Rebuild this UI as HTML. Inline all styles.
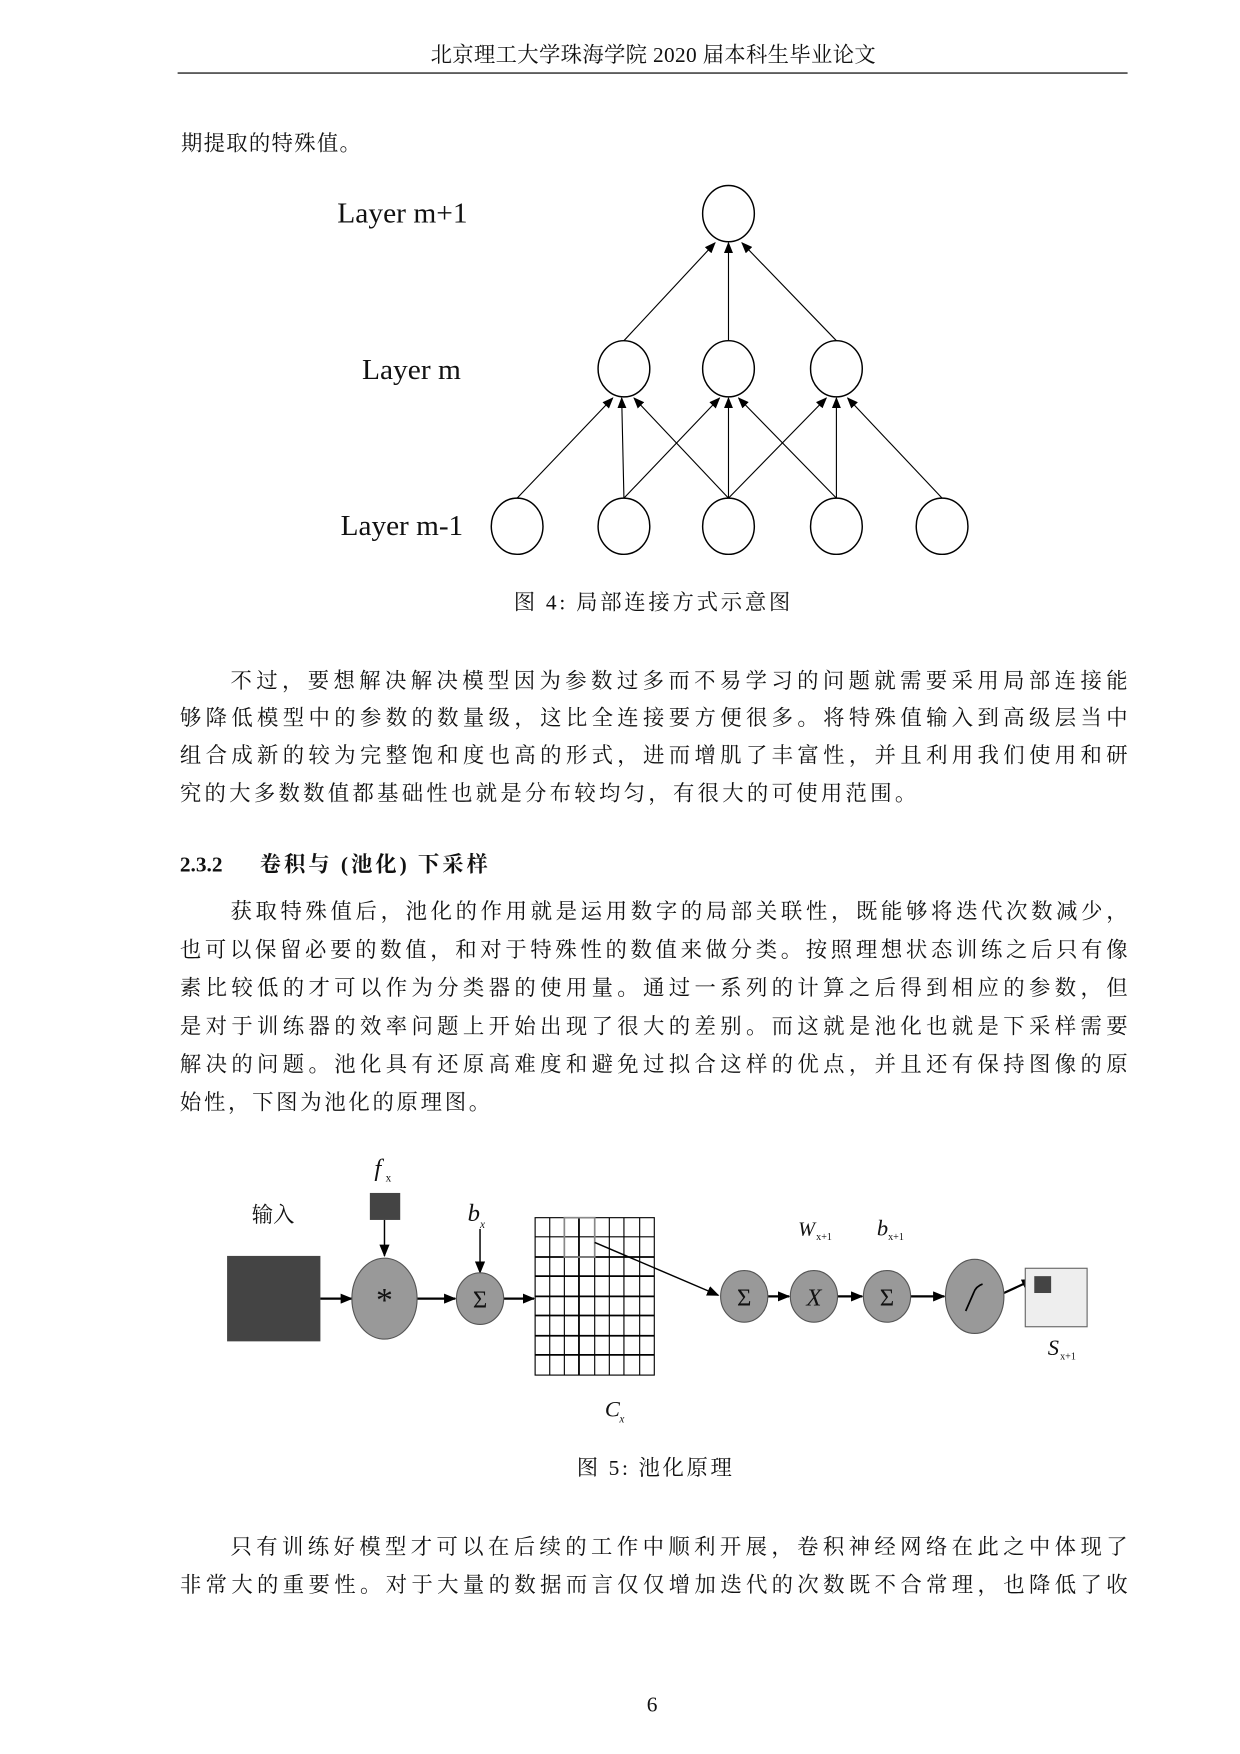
<!DOCTYPE html>
<html><head><meta charset="utf-8">
<style>
html,body{margin:0;padding:0;background:#fff;}
svg{display:block;}
.t{font-family:"Liberation Serif","Noto Serif CJK SC",serif;font-size:19px;fill:#111;}
.e{font-family:"Liberation Serif","Noto Serif CJK SC",serif;fill:#111;}
</style></head><body>
<svg width="1240" height="1754" viewBox="0 0 1103 1560" preserveAspectRatio="none" xmlns="http://www.w3.org/2000/svg">
<defs>
<marker id="a" markerWidth="10" markerHeight="8" refX="9" refY="4" orient="auto" markerUnits="userSpaceOnUse"><path d="M0,0 L10,4 L0,8 z" fill="#000"/></marker>
<marker id="b" markerWidth="11" markerHeight="9" refX="10" refY="4.5" orient="auto" markerUnits="userSpaceOnUse"><path d="M0,0 L11,4.5 L0,9 z" fill="#000"/></marker>
</defs>
<rect width="1103" height="1560" fill="#fff"/>
<!-- header -->
<text class="t" x="383" y="55" textLength="396" font-size="18">北京理工大学珠海学院 2020 届本科生毕业论文</text>
<line x1="158" y1="65" x2="1003" y2="65" stroke="#444" stroke-width="1.5"/>
<text class="t" x="161" y="134" textLength="160">期提取的特殊值。</text>

<!-- figure 4 -->
<text class="e" x="300" y="198" font-size="25" textLength="116" lengthAdjust="spacingAndGlyphs">Layer m+1</text>
<text class="e" x="322" y="337" font-size="25" textLength="88" lengthAdjust="spacingAndGlyphs">Layer m</text>
<text class="e" x="303" y="476" font-size="25" textLength="109" lengthAdjust="spacingAndGlyphs">Layer m-1</text>
<g fill="#fff" stroke="#000" stroke-width="1.3">
<ellipse cx="648" cy="190" rx="23" ry="25"/>
<ellipse cx="555" cy="328" rx="23" ry="25"/><ellipse cx="648" cy="328" rx="23" ry="25"/><ellipse cx="744" cy="328" rx="23" ry="25"/>
<ellipse cx="460" cy="468" rx="23" ry="25"/><ellipse cx="555" cy="468" rx="23" ry="25"/><ellipse cx="648" cy="468" rx="23" ry="25"/><ellipse cx="744" cy="468" rx="23" ry="25"/><ellipse cx="838" cy="468" rx="23" ry="25"/>
</g>
<g stroke="#000" stroke-width="1" marker-end="url(#a)">
<line x1="555" y1="303" x2="636" y2="216"/>
<line x1="648" y1="303" x2="648" y2="216"/>
<line x1="744" y1="303" x2="660" y2="216"/>
<line x1="460" y1="443" x2="545" y2="354"/>
<line x1="555" y1="443" x2="553" y2="354"/>
<line x1="648" y1="443" x2="564" y2="354"/>
<line x1="555" y1="443" x2="640" y2="354"/>
<line x1="648" y1="443" x2="648" y2="354"/>
<line x1="744" y1="443" x2="657" y2="354"/>
<line x1="648" y1="443" x2="735" y2="354"/>
<line x1="744" y1="443" x2="744" y2="354"/>
<line x1="838" y1="443" x2="754" y2="354"/>
</g>
<text class="t" x="457" y="542" textLength="246">图 4: 局部连接方式示意图</text>

<!-- paragraph 1 -->
<text class="t" x="205" y="612" textLength="798">不过，要想解决解决模型因为参数过多而不易学习的问题就需要采用局部连接能</text>
<text class="t" x="160" y="645" textLength="843">够降低模型中的参数的数量级，这比全连接要方便很多。将特殊值输入到高级层当中</text>
<text class="t" x="160" y="678" textLength="843">组合成新的较为完整饱和度也高的形式，进而增肌了丰富性，并且利用我们使用和研</text>
<text class="t" x="160" y="712" textLength="655">究的大多数数值都基础性也就是分布较均匀，有很大的可使用范围。</text>

<!-- heading -->
<text class="e" x="160" y="775" font-size="19" font-weight="bold">2.3.2</text>
<text class="e" x="231" y="775" font-size="19" font-weight="bold" textLength="203">卷积与 (池化) 下采样</text>

<!-- paragraph 2 -->
<text class="t" x="205" y="817" textLength="798">获取特殊值后，池化的作用就是运用数字的局部关联性，既能够将迭代次数减少，</text>
<text class="t" x="160" y="851" textLength="843">也可以保留必要的数值，和对于特殊性的数值来做分类。按照理想状态训练之后只有像</text>
<text class="t" x="160" y="885" textLength="843">素比较低的才可以作为分类器的使用量。通过一系列的计算之后得到相应的参数，但</text>
<text class="t" x="160" y="919" textLength="843">是对于训练器的效率问题上开始出现了很大的差别。而这就是池化也就是下采样需要</text>
<text class="t" x="160" y="953" textLength="843">解决的问题。池化具有还原高难度和避免过拟合这样的优点，并且还有保持图像的原</text>
<text class="t" x="160" y="987" textLength="276">始性，下图为池化的原理图。</text>

<!-- figure 5 -->
<text class="e" x="333" y="1046" font-size="22" font-style="italic">f</text>
<text class="e" x="343" y="1051" font-size="10">x</text>
<rect x="329" y="1061" width="27" height="24" fill="#444"/>
<text class="t" x="224" y="1087" font-size="19">输入</text>
<rect x="202" y="1117" width="83" height="76" fill="#444"/>
<text class="e" x="416" y="1086" font-size="22" font-style="italic">b</text>
<text class="e" x="427" y="1092" font-size="10" font-style="italic">x</text>
<!-- grid -->
<g stroke="#000" stroke-width="1">
<rect x="476" y="1083" width="106" height="140" fill="#fff"/>
<line x1="489" y1="1083" x2="489" y2="1223"/><line x1="502" y1="1083" x2="502" y2="1223"/><line x1="515" y1="1083" x2="515" y2="1223" stroke-width="1.6"/><line x1="529" y1="1083" x2="529" y2="1223"/><line x1="542" y1="1083" x2="542" y2="1223"/><line x1="555" y1="1083" x2="555" y2="1223"/><line x1="569" y1="1083" x2="569" y2="1223"/>
<line x1="476" y1="1100" x2="582" y2="1100"/><line x1="476" y1="1118" x2="582" y2="1118" stroke-width="1.6"/><line x1="476" y1="1135" x2="582" y2="1135" stroke-width="1.6"/><line x1="476" y1="1153" x2="582" y2="1153" stroke-width="1.6"/><line x1="476" y1="1170" x2="582" y2="1170" stroke-width="1.6"/><line x1="476" y1="1188" x2="582" y2="1188" stroke-width="1.6"/><line x1="476" y1="1205" x2="582" y2="1205" stroke-width="1.6"/>
</g>
<rect x="502" y="1083" width="27" height="35" fill="none" stroke="#888" stroke-width="1.5"/>
<g stroke="#000" stroke-width="1.3">
<line x1="342" y1="1085" x2="342" y2="1117" marker-end="url(#b)"/>
<line x1="427" y1="1093" x2="427" y2="1132" marker-end="url(#b)"/>
<line x1="285" y1="1155" x2="313" y2="1155" marker-end="url(#b)" stroke-width="2"/>
<line x1="371" y1="1155" x2="405" y2="1155" marker-end="url(#b)" stroke-width="2"/>
<line x1="448" y1="1155" x2="475" y2="1155" marker-end="url(#b)" stroke-width="2"/>
<line x1="529" y1="1105" x2="639" y2="1152" marker-end="url(#b)"/>
<line x1="683" y1="1153" x2="702" y2="1153" marker-end="url(#b)" stroke-width="2"/>
<line x1="745" y1="1153" x2="767" y2="1153" marker-end="url(#b)" stroke-width="2"/>
<line x1="810" y1="1153" x2="840" y2="1153" marker-end="url(#b)" stroke-width="2"/>
<line x1="893" y1="1150" x2="919" y2="1138" marker-end="url(#b)" stroke-width="2"/>
</g>
<g fill="#999" stroke="#555" stroke-width="1">
<ellipse cx="342" cy="1155" rx="29" ry="36"/>
<ellipse cx="427" cy="1155" rx="21" ry="23"/>
<ellipse cx="662" cy="1153" rx="21" ry="23"/>
<ellipse cx="724" cy="1153" rx="21" ry="23"/>
<ellipse cx="789" cy="1153" rx="21" ry="23"/>
<ellipse cx="867" cy="1153" rx="26" ry="33"/>
</g>
<text class="e" x="342" y="1166" font-size="30" text-anchor="middle">*</text>
<text class="e" x="427" y="1163" font-size="22" text-anchor="middle">Σ</text>
<text class="e" x="662" y="1161" font-size="22" text-anchor="middle">Σ</text>
<text class="e" x="724" y="1161" font-size="22" font-style="italic" text-anchor="middle">X</text>
<text class="e" x="789" y="1161" font-size="22" text-anchor="middle">Σ</text>
<path d="M859,1166 L866,1150 Q868,1144 874,1142" fill="none" stroke="#000" stroke-width="1.5"/>
<text class="e" x="710" y="1099" font-size="18" font-style="italic">W</text>
<text class="e" x="726" y="1103" font-size="9">x+1</text>
<text class="e" x="780" y="1099" font-size="20" font-style="italic">b</text>
<text class="e" x="790" y="1103" font-size="9">x+1</text>
<rect x="912" y="1128" width="55" height="52" fill="#eee" stroke="#666" stroke-width="1"/>
<rect x="920" y="1135" width="15" height="15" fill="#444"/>
<text class="e" x="932" y="1205" font-size="20" font-style="italic">S</text>
<text class="e" x="943" y="1209" font-size="9">x+1</text>
<text class="e" x="538" y="1260" font-size="20" font-style="italic">C</text>
<text class="e" x="551" y="1265" font-size="10" font-style="italic">x</text>
<text class="t" x="513" y="1312" textLength="138">图 5: 池化原理</text>

<!-- paragraph 3 -->
<text class="t" x="205" y="1382" textLength="798">只有训练好模型才可以在后续的工作中顺利开展，卷积神经网络在此之中体现了</text>
<text class="t" x="160" y="1416" textLength="843">非常大的重要性。对于大量的数据而言仅仅增加迭代的次数既不合常理，也降低了收</text>

<text class="e" x="580" y="1522" font-size="19" text-anchor="middle">6</text>
</svg>
</body></html>
